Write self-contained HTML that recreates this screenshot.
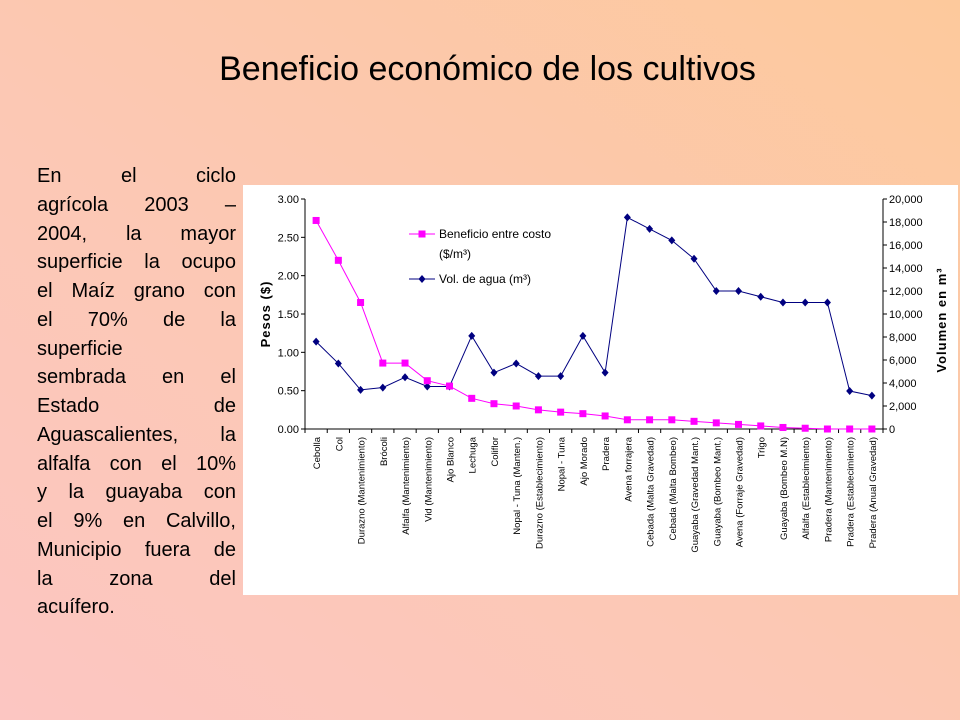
<!DOCTYPE html>
<html><head><meta charset="utf-8"><style>
html,body{margin:0;padding:0}
body{width:960px;height:720px;overflow:hidden;position:relative;font-family:"Liberation Sans",sans-serif;
background:linear-gradient(35deg,#fcc6c2 0%,#fcc8b4 45%,#fdc99c 100%);}
#title{position:absolute;left:0;width:975px;top:50px;text-align:center;font-size:34px;color:#000}
#para{position:absolute;left:37px;top:162px;width:199px;font-size:20px;line-height:28.75px;color:#000}
#para div{text-align:justify;text-align-last:justify;white-space:nowrap}
#para div.l{text-align-last:left}
#chart{position:absolute;left:243px;top:185px}
</style></head><body>
<div id="title">Beneficio económico de los cultivos</div>
<div id="para">
<div>En el ciclo</div><div>agrícola 2003 –</div><div>2004, la mayor</div><div>superficie la ocupo</div>
<div>el Maíz grano con</div><div>el 70% de la</div><div class="l">superficie</div><div>sembrada en el</div>
<div>Estado de</div><div>Aguascalientes, la</div><div>alfalfa con el 10%</div><div>y la guayaba con</div>
<div>el 9% en Calvillo,</div><div>Municipio fuera de</div><div>la zona del</div><div class="l">acuífero.</div>
</div>
<svg id="chart" width="715" height="410" xmlns="http://www.w3.org/2000/svg">
<rect x="0" y="0" width="715" height="410" fill="#fff"/>
<g id="g"></g>
</svg>
<script>
const categories=["Cebolla","Col","Durazno (Mantenimiento)","Brócoli","Alfalfa (Mantenimiento)","Vid (Mantenimiento)","Ajo Blanco","Lechuga","Coliflor","Nopal - Tuna (Manten.)","Durazno (Establecimiento)","Nopal - Tuna","Ajo Morado","Pradera","Avena forrajera","Cebada (Malta Gravedad)","Cebada (Malta Bombeo)","Guayaba (Gravedad Mant.)","Guayaba (Bombeo Mant.)","Avena (Forraje Gravedad)","Trigo","Guayaba (Bombeo M.N)","Alfalfa (Establecimiento)","Pradera (Mantenimiento)","Pradera (Establecimiento)","Pradera (Anual Gravedad)"];
const beneficio=[2.72,2.20,1.65,0.86,0.86,0.63,0.56,0.40,0.33,0.30,0.25,0.22,0.20,0.17,0.12,0.12,0.12,0.10,0.08,0.06,0.04,0.02,0.01,0,0,0];
const volumen=[7600,5700,3400,3600,4500,3700,3700,8100,4900,5700,4600,4600,8100,4900,18400,17400,16400,14800,12000,12000,11500,11000,11000,11000,3300,2900];
const leftTicks=["0.00","0.50","1.00","1.50","2.00","2.50","3.00"];
const rightTicks=["0","2,000","4,000","6,000","8,000","10,000","12,000","14,000","16,000","18,000","20,000"];
const NS="http://www.w3.org/2000/svg";
const g=document.getElementById('g');
const X0=62,X1=640,Y0=244,Y1=14;
const bw=(X1-X0)/categories.length;
const xc=i=>X0+bw*(i+0.5);
const yl=v=>Y0-(v/3)*(Y0-Y1);
const yr=v=>Y0-(v/20000)*(Y0-Y1);
function el(t,a,txt){const e=document.createElementNS(NS,t);for(const k in a)e.setAttribute(k,a[k]);if(txt!==undefined)e.textContent=txt;g.appendChild(e);return e;}
let e;
e=el('line',{x1:X0,y1:Y1,x2:X0,y2:Y0,stroke:'#000','stroke-width':1});


e=el('line',{x1:X1,y1:Y1,x2:X1,y2:Y0,stroke:'#000','stroke-width':1});


e=el('line',{x1:X0,y1:Y0,x2:X1,y2:Y0,stroke:'#000','stroke-width':1});


leftTicks.forEach(t=>{const y=yl(parseFloat(t));
el('line',{x1:X0-4,y1:y,x2:X0,y2:y,stroke:'#000'});
e=el('text',{x:X0-6,y:y+4,'text-anchor':'end','font-size':11},t);

});
rightTicks.forEach(t=>{const y=yr(parseFloat(t.replace(/,/g,'')));
el('line',{x1:X1,y1:y,x2:X1+4,y2:y,stroke:'#000'});
e=el('text',{x:X1+6,y:y+4,'font-size':11},t);

});
for(let i=0;i<=categories.length;i++){el('line',{x1:X0+bw*i,y1:Y0,x2:X0+bw*i,y2:Y0+4,stroke:'#000'});}
categories.forEach((c,i)=>{const x=xc(i)+4;
e=el('text',{x:x,y:Y0+8,'font-size':9.5,'text-anchor':'end',transform:`rotate(-90 ${x} ${Y0+8})`},c);

});
e=el('text',{x:27,y:129,'font-size':13,'font-weight':'bold','text-anchor':'middle','letter-spacing':'1',transform:'rotate(-90 27 129)'},'Pesos ($)');


e=el('text',{x:703,y:135,'font-size':13,'font-weight':'bold','text-anchor':'middle','letter-spacing':'1',transform:'rotate(-90 703 135)'},'Volumen en m³');


// series
e=el('polyline',{points:volumen.map((v,i)=>xc(i)+','+yr(v)).join(' '),fill:'none',stroke:'#000080','stroke-width':1});


volumen.forEach((v,i)=>{const x=xc(i),y=yr(v);
e=el('polygon',{points:`${x},${y-4} ${x+3.5},${y} ${x},${y+4} ${x-3.5},${y}`,fill:'#000080'});

});
e=el('polyline',{points:beneficio.map((v,i)=>xc(i)+','+yl(v)).join(' '),fill:'none',stroke:'#ff00ff','stroke-width':1});


beneficio.forEach((v,i)=>{const x=xc(i),y=yl(v);
e=el('rect',{x:x-3.5,y:y-3.5,width:7,height:7,fill:'#ff00ff'});

});
// legend
el('line',{x1:166,y1:49,x2:192,y2:49,stroke:'#ff00ff'});
e=el('rect',{x:175.5,y:45.5,width:7,height:7,fill:'#ff00ff'});


e=el('text',{x:196,y:53,'font-size':12},'Beneficio entre costo');


el('text',{x:196,y:73,'font-size':12},'($/m³)');
el('line',{x1:166,y1:94,x2:192,y2:94,stroke:'#000080'});
e=el('polygon',{points:'179,90 182.5,94 179,98 175.5,94',fill:'#000080'});


e=el('text',{x:196,y:98,'font-size':12},'Vol. de agua (m³)');


</script>
</body></html>
